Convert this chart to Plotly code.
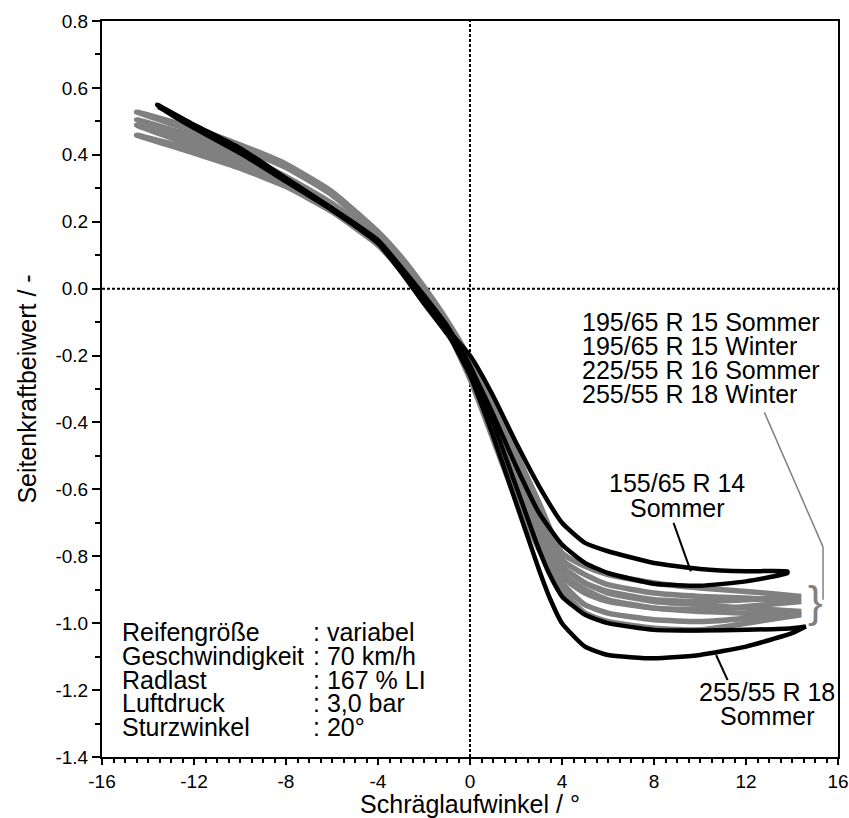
import plotly.graph_objects as go

# Seitenkraftbeiwert über Schräglaufwinkel, je Reifen eine Hin- und Rückfahrt (Hysterese-Schleife)

# 155/65 R 14 Sommer
slip_155_s = [-13.6, -12, -10, -8, -6, -4, -3, -2, -1, 0, 1, 2, 3, 4, 5, 6, 8, 10, 12, 13.8]
cf_155_s_hin = [0.55, 0.49, 0.42, 0.33, 0.24, 0.14, 0.055, -0.035, -0.12, -0.20, -0.32, -0.46, -0.59, -0.70, -0.76, -0.785, -0.82, -0.838, -0.845, -0.845]
cf_155_s_rueck = [0.55, 0.485, 0.415, 0.325, 0.235, 0.135, 0.05, -0.045, -0.135, -0.235, -0.375, -0.53, -0.67, -0.765, -0.82, -0.85, -0.882, -0.888, -0.875, -0.85]

# 255/55 R 18 Sommer
slip_255_s = [-13.6, -12, -10, -8, -6, -4, -3, -2, -1, 0, 1, 2, 3, 3.5, 4, 5, 6, 8, 10, 12, 14, 14.6]
cf_255_s_hin = [0.545, 0.48, 0.405, 0.32, 0.235, 0.14, 0.06, -0.03, -0.13, -0.26, -0.44, -0.64, -0.84, -0.93, -1.0, -1.07, -1.095, -1.105, -1.095, -1.07, -1.03, -1.01]
cf_255_s_rueck = [0.545, 0.485, 0.41, 0.325, 0.24, 0.145, 0.065, -0.02, -0.11, -0.23, -0.40, -0.59, -0.78, -0.86, -0.92, -0.975, -1.0, -1.02, -1.022, -1.02, -1.015, -1.01]

# graue Reifen: gemeinsames Winkelraster
slip_grau = [-14.5, -12, -10, -8, -6, -4, -3, -2, -1, 0, 1, 2, 3, 4, 5, 6, 8, 10, 12, 14.4]

# 195/65 R 15 Sommer
cf_195_s_hin = [0.528, 0.48, 0.43, 0.372, 0.29, 0.17, 0.095, 0.005, -0.095, -0.21, -0.34, -0.49, -0.64, -0.79, -0.83, -0.855, -0.88, -0.895, -0.905, -0.92]
cf_195_s_rueck = [0.528, 0.47, 0.42, 0.362, 0.28, 0.16, 0.085, -0.005, -0.105, -0.245, -0.40, -0.56, -0.70, -0.83, -0.88, -0.905, -0.93, -0.935, -0.93, -0.92]

# 195/65 R 15 Winter
cf_195_w_hin = [0.505, 0.455, 0.40, 0.335, 0.255, 0.15, 0.075, -0.01, -0.105, -0.22, -0.36, -0.52, -0.67, -0.81, -0.855, -0.885, -0.91, -0.92, -0.925, -0.935]
cf_195_w_rueck = [0.505, 0.445, 0.39, 0.325, 0.245, 0.14, 0.065, -0.02, -0.115, -0.255, -0.42, -0.59, -0.73, -0.86, -0.91, -0.935, -0.955, -0.96, -0.95, -0.935]

# 225/55 R 16 Sommer
cf_225_s_hin = [0.489, 0.435, 0.385, 0.32, 0.245, 0.145, 0.07, -0.015, -0.11, -0.225, -0.37, -0.54, -0.70, -0.83, -0.88, -0.91, -0.935, -0.945, -0.955, -0.965]
cf_225_s_rueck = [0.489, 0.425, 0.375, 0.31, 0.235, 0.135, 0.06, -0.025, -0.12, -0.26, -0.43, -0.61, -0.76, -0.88, -0.945, -0.97, -0.99, -0.995, -0.985, -0.965]

# 255/55 R 18 Winter
cf_255_w_hin = [0.459, 0.415, 0.37, 0.315, 0.24, 0.14, 0.065, -0.02, -0.115, -0.23, -0.38, -0.56, -0.72, -0.85, -0.90, -0.93, -0.955, -0.965, -0.97, -0.975]
cf_255_w_rueck = [0.459, 0.405, 0.36, 0.305, 0.23, 0.13, 0.055, -0.03, -0.125, -0.27, -0.45, -0.63, -0.78, -0.90, -0.97, -0.995, -1.015, -1.02, -1.0, -0.975]

x_ticks = [-16, -12, -8, -4, 0, 4, 8, 12, 16]
y_ticks = [0.8, 0.6, 0.4, 0.2, 0.0, -0.2, -0.4, -0.6, -0.8, -1.0, -1.2, -1.4]

params_names = ["Reifengröße", "Geschwindigkeit", "Radlast", "Luftdruck", "Sturzwinkel"]
params_values = [": variabel", ": 70 km/h", ": 167 % LI", ": 3,0 bar", ": 20°"]
group_names = ["195/65 R 15 Sommer", "195/65 R 15 Winter", "225/55 R 16 Sommer", "255/55 R 18 Winter"]

BLACK = "#000000"
GRAY = "#808080"
FONT = "Liberation Sans, Arial, sans-serif"
TXT = 25


def loop(slip, hin, rueck):
    """Hin- und Rückweg zu einer geschlossenen Kurve verbinden."""
    xs = list(slip) + list(reversed(slip))
    ys = list(hin) + list(reversed(rueck))
    return xs, ys


def label(x, y, text, xanchor="center"):
    fig.add_annotation(x=x, y=y, text=text, showarrow=False, xanchor=xanchor,
                       yanchor="middle", font=dict(size=TXT, color=BLACK, family=FONT))


fig = go.Figure()

grey_tyres = [
    ("195/65 R 15 Sommer", cf_195_s_hin, cf_195_s_rueck),
    ("195/65 R 15 Winter", cf_195_w_hin, cf_195_w_rueck),
    ("225/55 R 16 Sommer", cf_225_s_hin, cf_225_s_rueck),
    ("255/55 R 18 Winter", cf_255_w_hin, cf_255_w_rueck),
]
for name, hin, rueck in grey_tyres:
    xs, ys = loop(slip_grau, hin, rueck)
    fig.add_trace(go.Scatter(x=xs, y=ys, mode="lines", name=name,
                             line=dict(color=GRAY, width=5.5, shape="spline", smoothing=0.5)))

black_tyres = [
    ("155/65 R 14 Sommer", slip_155_s, cf_155_s_hin, cf_155_s_rueck),
    ("255/55 R 18 Sommer", slip_255_s, cf_255_s_hin, cf_255_s_rueck),
]
for name, slip, hin, rueck in black_tyres:
    xs, ys = loop(slip, hin, rueck)
    fig.add_trace(go.Scatter(x=xs, y=ys, mode="lines", name=name,
                             line=dict(color=BLACK, width=4.5, shape="spline", smoothing=0.5)))

# Nulllinien
fig.add_shape(type="line", x0=0, x1=0, y0=-1.4, y1=0.8, xref="x", yref="y",
              line=dict(color=BLACK, width=2, dash="3px,2px"), layer="below")
fig.add_shape(type="line", x0=-16, x1=16, y0=0, y1=0, xref="x", yref="y",
              line=dict(color=BLACK, width=2, dash="3px,2px"), layer="below")

# Beschriftung 155/65 R 14 Sommer
label(9.0, -0.58, "155/65 R 14")
label(9.0, -0.655, "Sommer")
fig.add_shape(type="line", x0=8.85, y0=-0.70, x1=9.6, y1=-0.845,
              line=dict(color=BLACK, width=2))

# Beschriftung 255/55 R 18 Sommer
label(12.9, -1.206, "255/55 R 18")
label(12.9, -1.278, "Sommer")
fig.add_shape(type="line", x0=11.2, y0=-1.17, x1=10.7, y1=-1.095,
              line=dict(color=BLACK, width=2))

# Gruppe der grauen Reifen
for i, name in enumerate(group_names):
    label(4.8, -0.1 - 0.072 * i, name, xanchor="left")
fig.add_shape(type="line", x0=12.8, y0=-0.37, x1=15.35, y1=-0.772,
              line=dict(color=GRAY, width=1.5))
fig.add_shape(type="line", x0=15.35, y0=-0.772, x1=15.35, y1=-0.93,
              line=dict(color=GRAY, width=1.5))
fig.add_annotation(x=15.0, y=-0.934, text="}", showarrow=False,
                   font=dict(size=44, color=GRAY, family=FONT))

# Versuchsparameter
for i, (n, v) in enumerate(zip(params_names, params_values)):
    yy = -1.027 - 0.071 * i
    label(-15.2, yy, n, xanchor="left")
    label(-6.9, yy, v, xanchor="left")

axis_common = dict(showline=True, linecolor=BLACK, linewidth=2, mirror=True,
                   ticks="outside", tickwidth=2, tickcolor=BLACK,
                   showgrid=False, zeroline=False, automargin=False,
                   tickfont=dict(size=19, color=BLACK, family=FONT))

fig.update_xaxes(range=[-16, 16], tickvals=x_ticks, ticklen=6,
                 ticktext=[str(v) for v in x_ticks],
                 minor=dict(dtick=0.5, ticks="outside", ticklen=4, tickwidth=1.5, tickcolor=BLACK),
                 title=dict(text="Schräglaufwinkel / °", font=dict(size=TXT, color=BLACK, family=FONT),
                            standoff=9),
                 **axis_common)
fig.update_yaxes(range=[-1.4, 0.8], tickvals=y_ticks, ticklen=8,
                 ticktext=[f"{v:.1f}" for v in y_ticks],
                 minor=dict(dtick=0.1, ticks="outside", ticklen=5, tickwidth=1.5, tickcolor=BLACK),
                 title=dict(text="Seitenkraftbeiwert / -", font=dict(size=TXT, color=BLACK, family=FONT),
                            standoff=12),
                 **axis_common)

fig.update_layout(width=849, height=818, showlegend=False,
                  plot_bgcolor="white", paper_bgcolor="white",
                  margin=dict(l=102, r=11, t=21, b=61))

fig.write_html("out.html")
